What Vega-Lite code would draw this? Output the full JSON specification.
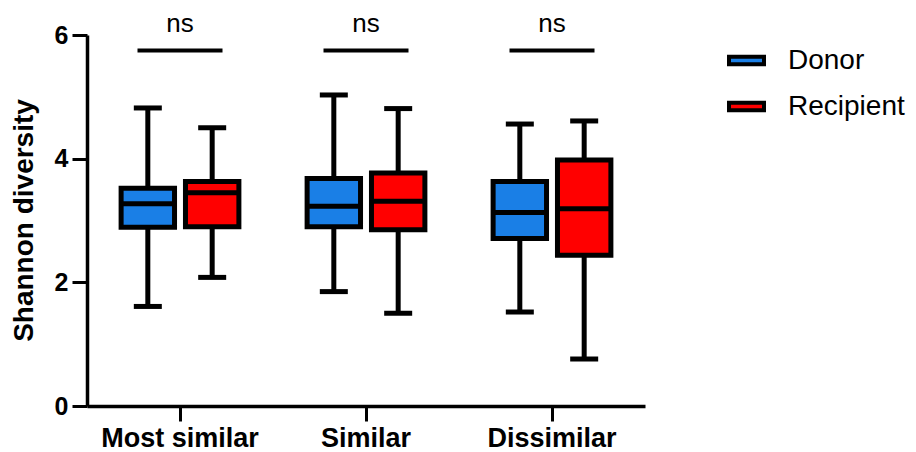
{
  "$schema": "https://vega.github.io/schema/vega-lite/v6.json",
  "autosize": "none",
  "width": 558,
  "height": 371,
  "padding": {"left": 87, "top": 35, "right": 271, "bottom": 46},
  "background": "white",
  "config": {
    "view": {"stroke": null},
    "font": "Liberation Sans",
    "axis": {"grid": false, "domainColor": "black", "tickColor": "black", "domainWidth": 3.5, "tickWidth": 3, "tickSize": 15, "labelColor": "black", "titleColor": "black", "labelFont": "Liberation Sans", "titleFont": "Liberation Sans", "labelFontWeight": "bold", "titleFontWeight": "bold"}
  },
  "datasets": {
    "boxes": [
      {"group": "Most similar", "type": "Donor", "lower": 1.61, "q1": 2.89, "median": 3.27, "q3": 3.52, "upper": 4.82},
      {"group": "Most similar", "type": "Recipient", "lower": 2.08, "q1": 2.90, "median": 3.45, "q3": 3.63, "upper": 4.50},
      {"group": "Similar", "type": "Donor", "lower": 1.85, "q1": 2.90, "median": 3.23, "q3": 3.68, "upper": 5.03},
      {"group": "Similar", "type": "Recipient", "lower": 1.50, "q1": 2.85, "median": 3.31, "q3": 3.77, "upper": 4.81},
      {"group": "Dissimilar", "type": "Donor", "lower": 1.52, "q1": 2.71, "median": 3.13, "q3": 3.63, "upper": 4.56},
      {"group": "Dissimilar", "type": "Recipient", "lower": 0.76, "q1": 2.44, "median": 3.19, "q3": 3.98, "upper": 4.61}
    ],
    "sig": [
      {"group": "Most similar", "bar": 5.75, "ty": 6.05, "label": "ns"},
      {"group": "Similar", "bar": 5.75, "ty": 6.05, "label": "ns"},
      {"group": "Dissimilar", "bar": 5.75, "ty": 6.05, "label": "ns"}
    ]
  },
  "encoding": {
    "x": {
      "field": "group", "type": "nominal", "sort": ["Most similar", "Similar", "Dissimilar"],
      "scale": {"paddingInner": 0, "paddingOuter": 0},
      "axis": {"title": null, "labelAngle": 0, "labelFontSize": 27, "labelPadding": 4}
    }
  },
  "layer": [
    {
      "data": {"name": "boxes"},
      "mark": {"type": "rule", "color": "black", "strokeWidth": 5},
      "encoding": {
        "xOffset": {"field": "type", "type": "nominal", "scale": {"paddingInner": 0.17, "paddingOuter": 0.53}},
        "y": {"field": "lower", "type": "quantitative", "scale": {"domain": [0, 6], "nice": false},
          "axis": {"values": [0, 2, 4, 6], "format": "d", "title": "Shannon diversity", "labelFontSize": 25, "titleFontSize": 28, "labelPadding": 4,
            "titleX": -63, "titleY": 185, "titleAngle": -90, "titleAlign": "center", "titleBaseline": "middle"}},
        "y2": {"field": "upper"}
      }
    },
    {
      "data": {"name": "boxes"},
      "mark": {"type": "tick", "color": "black", "thickness": 5, "size": 28, "opacity": 1},
      "encoding": {
        "xOffset": {"field": "type", "type": "nominal"},
        "y": {"field": "lower", "type": "quantitative"}
      }
    },
    {
      "data": {"name": "boxes"},
      "mark": {"type": "tick", "color": "black", "thickness": 5, "size": 28, "opacity": 1},
      "encoding": {
        "xOffset": {"field": "type", "type": "nominal"},
        "y": {"field": "upper", "type": "quantitative"}
      }
    },
    {
      "data": {"name": "boxes"},
      "mark": {"type": "bar", "stroke": "black", "strokeWidth": 5, "opacity": 1},
      "encoding": {
        "xOffset": {"field": "type", "type": "nominal"},
        "y": {"field": "q1", "type": "quantitative"},
        "y2": {"field": "q3"},
        "fill": {
          "field": "type", "type": "nominal",
          "scale": {"domain": ["Donor", "Recipient"], "range": ["#1a7fe6", "#ff0000"]},
          "legend": {
            "title": null, "orient": "none", "legendX": 640, "legendY": 6,
            "symbolType": "M-1,-0.22H1V0.22H-1Z", "symbolSize": 1225,
            "symbolStrokeColor": "black", "symbolStrokeWidth": 4, "symbolOpacity": 1,
            "labelFontSize": 28, "labelFontWeight": "normal", "labelColor": "black", "labelOffset": 22, "rowPadding": 12
          }
        }
      }
    },
    {
      "data": {"name": "boxes"},
      "mark": {"type": "tick", "color": "black", "thickness": 5, "size": 53, "opacity": 1},
      "encoding": {
        "xOffset": {"field": "type", "type": "nominal"},
        "y": {"field": "median", "type": "quantitative"}
      }
    },
    {
      "data": {"name": "sig"},
      "mark": {"type": "tick", "color": "black", "thickness": 4, "size": 85, "opacity": 1},
      "encoding": {
        "y": {"field": "bar", "type": "quantitative"}
      }
    },
    {
      "data": {"name": "sig"},
      "mark": {"type": "text", "fontSize": 26, "color": "black", "baseline": "alphabetic", "align": "center"},
      "encoding": {
        "y": {"field": "ty", "type": "quantitative"},
        "text": {"field": "label"}
      }
    }
  ]
}
